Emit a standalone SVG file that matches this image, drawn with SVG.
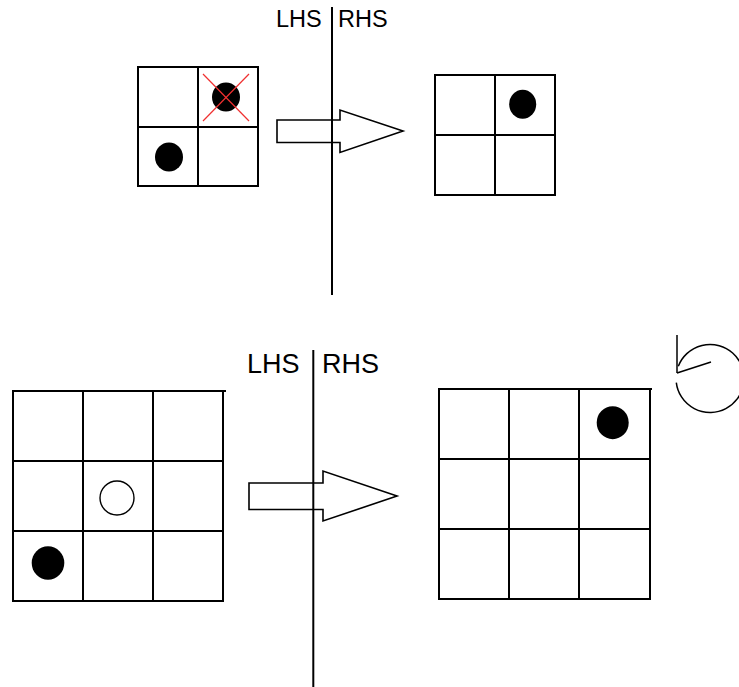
<svg xmlns="http://www.w3.org/2000/svg" width="739" height="687" viewBox="0 0 739 687">
<style>
.g{fill:none;stroke:#000;stroke-width:2}
.ln{stroke:#000;stroke-width:2;fill:none}
.ar{fill:#fff;stroke:#000;stroke-width:1.6;stroke-linejoin:miter}
.lbl{font-family:"Liberation Sans",Arial,sans-serif;fill:#000}
.dot{fill:#000}
.x{stroke:#f03030;stroke-width:1.2}
</style>
<rect width="739" height="687" fill="#fff"/>
<g id="top-lhs-grid">
<rect class="g" x="138" y="67" width="120" height="119"/>
<line class="ln" x1="198" y1="67" x2="198" y2="186"/>
<line class="ln" x1="138" y1="127" x2="258" y2="127"/>
<ellipse class="dot" cx="226" cy="97" rx="14" ry="14.5"/>
<ellipse class="dot" cx="169" cy="157" rx="14" ry="14.5"/>
<line class="x" x1="203" y1="74" x2="249" y2="121"/>
<line class="x" x1="249" y1="74" x2="203" y2="121"/>
</g>
<g id="top-rhs-grid">
<rect class="g" x="435" y="75" width="120" height="120"/>
<line class="ln" x1="495" y1="75" x2="495" y2="195"/>
<line class="ln" x1="435" y1="135" x2="555" y2="135"/>
<ellipse class="dot" cx="522.7" cy="104.3" rx="13.5" ry="14.5"/>
</g>
<g id="bottom-lhs-grid">
<rect class="g" x="13" y="391" width="210" height="210"/>
<line class="ln" x1="223" y1="391" x2="226" y2="391"/>
<line class="ln" x1="83" y1="391" x2="83" y2="601"/>
<line class="ln" x1="153" y1="391" x2="153" y2="601"/>
<line class="ln" x1="13" y1="461" x2="223" y2="461"/>
<line class="ln" x1="13" y1="531" x2="223" y2="531"/>
<circle cx="117" cy="498" r="17" fill="none" stroke="#000" stroke-width="1.4"/>
<ellipse class="dot" cx="48" cy="563" rx="16.3" ry="16.7"/>
</g>
<g id="bottom-rhs-grid">
<rect class="g" x="439" y="389" width="211" height="210"/>
<line class="ln" x1="650" y1="389" x2="652" y2="389"/>
<line class="ln" x1="509" y1="389" x2="509" y2="599"/>
<line class="ln" x1="579" y1="389" x2="579" y2="599"/>
<line class="ln" x1="439" y1="459" x2="650" y2="459"/>
<line class="ln" x1="439" y1="529" x2="650" y2="529"/>
<ellipse class="dot" cx="612.7" cy="422.7" rx="16" ry="16.5"/>
</g>
<g id="rotation-symbol" fill="none" stroke="#000" stroke-width="1.5">
<path d="M678.3 366.3 A34 34 0 1 1 676.3 382.6"/>
<line x1="677" y1="335" x2="677" y2="373"/>
<line x1="677" y1="373" x2="711" y2="362"/>
</g>
<g id="connectors">
<path class="ar" d="M277 120 L340 120 L340 110 L403 131 L340 152.5 L340 142.5 L277 142.5 Z"/>
<path class="ar" d="M249 483 L323 483 L323 471 L397 496 L323 521 L323 509.5 L249 509.5 Z"/>
<line class="ln" x1="332" y1="7" x2="332" y2="295"/>
<line class="ln" x1="313.3" y1="350" x2="313.3" y2="687"/>
</g>
<g id="labels">
<text class="lbl" x="276" y="27" font-size="23.5">LHS</text>
<text class="lbl" x="338" y="27" font-size="23.5">RHS</text>
<text class="lbl" x="247" y="373" font-size="27">LHS</text>
<text class="lbl" x="322" y="373" font-size="27">RHS</text>
</g>
</svg>
